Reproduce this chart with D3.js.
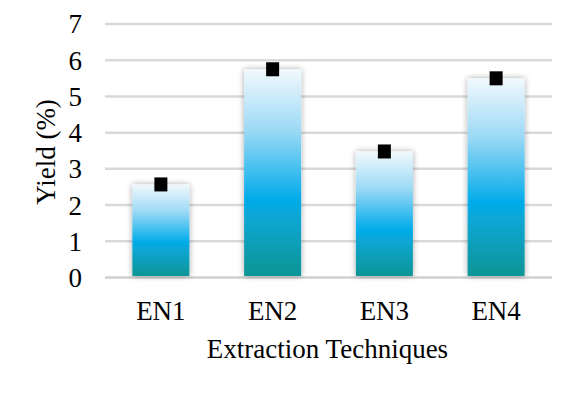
<!DOCTYPE html>
<html><head><meta charset="utf-8">
<script src="https://cdn.jsdelivr.net/npm/d3@7"></script>
<style>body{margin:0;background:#fff}svg{display:block}text{font-family:"Liberation Serif","Times New Roman",serif;fill:#000}</style>
</head><body>
<svg id="c" width="571" height="393"></svg>
<script>
const categories = ["EN1", "EN2", "EN3", "EN4"];
const yieldValues = [2.57, 5.75, 3.48, 5.5];
const yTicks = [0, 1, 2, 3, 4, 5, 6, 7];
const xTitle = "Extraction Techniques";
const yTitle = "Yield (%)";

const svg = d3.select("#c");
const m = {left: 105, right: 19, top: 24, bottom: 115};
const W = 571, H = 393;
const x = d3.scaleBand().domain(categories).range([m.left, W - m.right]).paddingInner(0.49).paddingOuter(0.245);
const y = d3.scaleLinear().domain([0, 7]).range([277.5, 24]);

const defs = svg.append("defs");
const g = defs.append("linearGradient").attr("id", "bg").attr("x1", 0).attr("y1", 0).attr("x2", 0).attr("y2", 1);
g.append("stop").attr("offset", "0%").attr("stop-color", "#f2f9fd");
g.append("stop").attr("offset", "30%").attr("stop-color", "#9ad9f5");
g.append("stop").attr("offset", "62%").attr("stop-color", "#05acea");
g.append("stop").attr("offset", "100%").attr("stop-color", "#0f9596");
const f = defs.append("filter").attr("id", "sh").attr("x", "-30%").attr("y", "-10%").attr("width", "160%").attr("height", "120%");
f.append("feGaussianBlur").attr("in", "SourceAlpha").attr("stdDeviation", 3).attr("result", "b");
f.append("feComponentTransfer").attr("in", "b").attr("result", "b2").append("feFuncA").attr("type", "linear").attr("slope", 0.35);
const mg = f.append("feMerge");
mg.append("feMergeNode").attr("in", "b2");
mg.append("feMergeNode").attr("in", "SourceGraphic");

// gridlines
svg.append("g").selectAll("line").data(yTicks).join("line")
  .attr("x1", m.left).attr("x2", W - m.right)
  .attr("y1", d => y(d)).attr("y2", d => y(d))
  .attr("stroke", d => d === 0 ? "#d0d0d0" : "#d9d9d9").attr("stroke-width", 2.5);

// y tick labels
svg.append("g").selectAll("text").data(yTicks).join("text")
  .attr("x", 82).attr("y", d => y(d)).attr("dy", "0.35em")
  .attr("text-anchor", "end").attr("font-size", 27).text(d => d);

// bars
svg.append("g").selectAll("rect").data(yieldValues).join("rect")
  .attr("x", (d, i) => x(categories[i])).attr("width", x.bandwidth())
  .attr("y", d => y(d)).attr("height", d => y(0) - 1.5 - y(d))
  .attr("fill", "url(#bg)").attr("filter", "url(#sh)");

// markers
svg.append("g").selectAll("rect").data(yieldValues).join("rect")
  .attr("x", (d, i) => x(categories[i]) + x.bandwidth() / 2 - 6.5).attr("width", 13)
  .attr("y", d => y(d) - 7).attr("height", 14)
  .attr("fill", "#000");

// x labels
svg.append("g").selectAll("text").data(categories).join("text")
  .attr("x", d => x(d) + x.bandwidth() / 2).attr("y", 320)
  .attr("text-anchor", "middle").attr("font-size", 27).text(d => d);

svg.append("text").attr("x", (m.left + W - m.right) / 2 - 1).attr("y", 358)
  .attr("text-anchor", "middle").attr("font-size", 27).text(xTitle);

svg.append("text").attr("transform", "translate(55,152) rotate(-90)")
  .attr("text-anchor", "middle").attr("font-size", 27).text(yTitle);
</script>
</body></html>
